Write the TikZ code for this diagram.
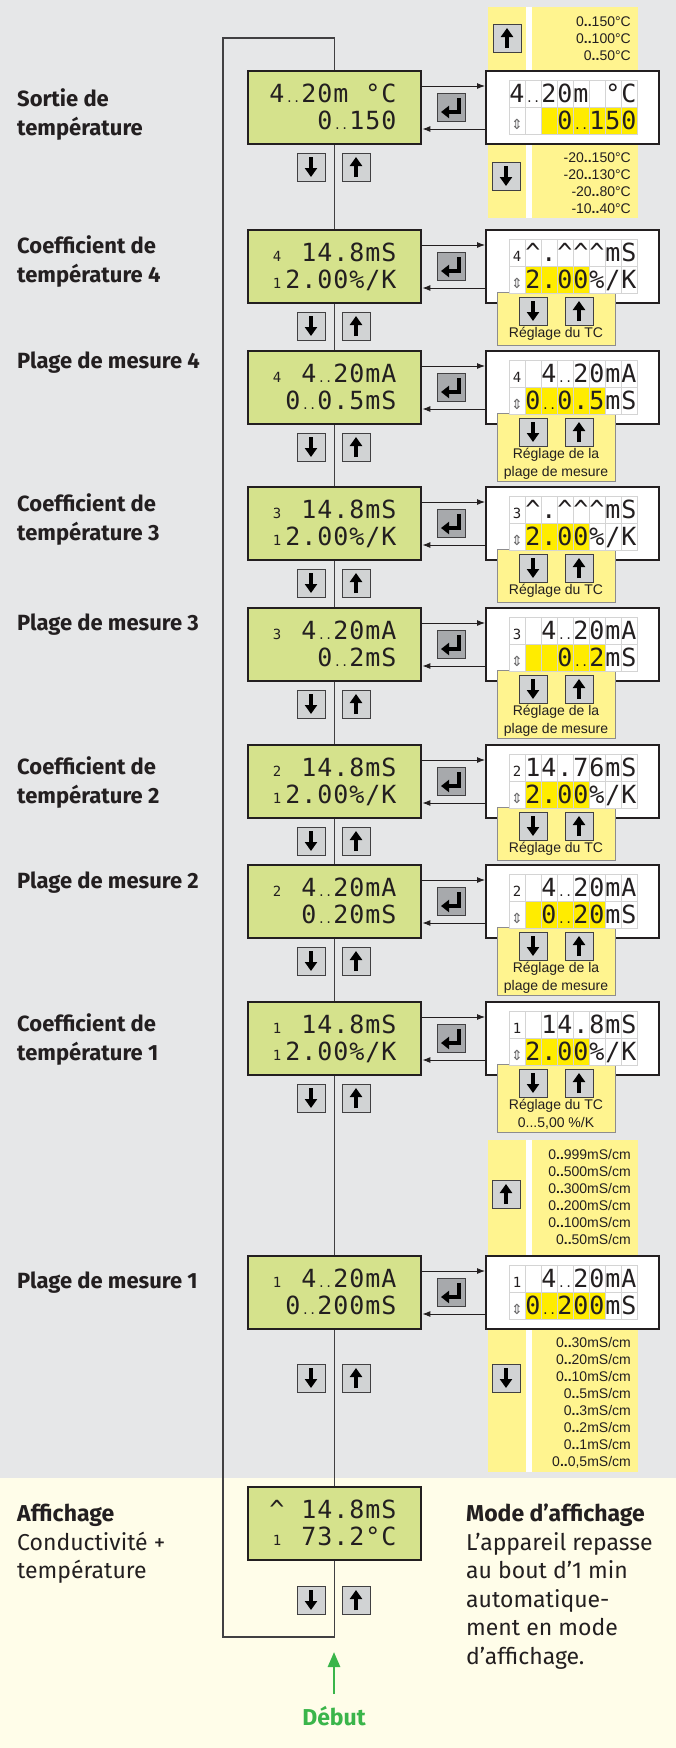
\documentclass[tikz,border=0pt]{standalone}
\usepackage{fontspec}
\setmainfont{Fira Sans}
\newfontfamily\lcdfont{DejaVu Sans Mono}
\newfontfamily\panelfont{Liberation Sans}
\newfontfamily\symfont{DejaVu Sans}
\usetikzlibrary{arrows.meta, calc}
\definecolor{bggrey}{HTML}{E6E7E8}
\definecolor{bgcream}{HTML}{FFFDE9}
\definecolor{lcdgreen}{HTML}{D5E28C}
\definecolor{panelyel}{HTML}{FFF48F}
\definecolor{hl}{HTML}{FFEC00}
\colorlet{wt}{white}
\definecolor{keygrey}{HTML}{D1D3D4}
\definecolor{entgrey}{HTML}{A7A9AC}
\definecolor{ink}{HTML}{231F20}
\definecolor{lineink}{HTML}{414042}
\definecolor{cellline}{HTML}{D4D4D4}
\definecolor{startgreen}{HTML}{3AB54A}
\tikzset{
  dispbox/.style={draw=ink, fill=lcdgreen, line width=2.4pt, minimum width=173pt, minimum height=73pt, anchor=north west, inner sep=0pt},
  setbox/.style={dispbox, fill=white},
  lcd/.style={font=\lcdfont\fontsize{25}{25}\selectfont, text=ink, minimum width=16pt, minimum height=27pt, text height=20pt, text depth=2pt, inner sep=0pt, outer sep=0pt, anchor=north west},
  cell/.style={lcd, draw=cellline, line width=0.8pt, fill=#1},
  keybtn/.style={draw=lineink, fill=keygrey, line width=1pt, minimum size=28pt, inner sep=0pt},
  entbtn/.style={keybtn, fill=entgrey},
  glyph/.style={draw=black, line width=3.8pt, line join=miter, -{Triangle[width=12pt, length=9pt]}},
  conn/.style={draw=ink, line width=0.9pt, -{Latex[length=8pt, width=6pt]}},
  flow/.style={draw=lineink, line width=1.1pt},
  panel/.style={draw=lineink!60, fill=panelyel, line width=0.8pt, minimum width=118pt, inner sep=0pt, anchor=north},
  paneltxt/.style={font=\panelfont\fontsize{14}{18}\selectfont, text=ink, align=center, inner sep=0pt, anchor=north},
  rangetxt/.style={font=\panelfont\fontsize{14}{17}\selectfont, text=ink, align=right, inner sep=0pt, anchor=north east},
  menutxt/.style={font=\bfseries\fontsize{22}{29}\selectfont, text=ink, align=left, inner sep=0pt, anchor=north west},
  starttxt/.style={font=\bfseries\fontsize{23}{23}\selectfont, text=startgreen, inner sep=0pt},
  startarrow/.style={draw=startgreen, line width=2.6pt, -{Triangle[width=12pt, length=15pt]}},
}
% lcd glyphs
\newcommand\idx[1]{{\fontsize{14}{14}\selectfont #1}}
\newcommand\twodot{{\fontsize{12}{12}\selectfont..}}
\newcommand\updn{{\symfont\fontsize{14}{14}\selectfont\color{lineink!80}⇕}}
\newcommand\caret{\textasciicircum}
\newcommand\rg{\textbf{..}}
% rows of characters: name, left x, top y, list
\newcommand\lcdrow[4]{\foreach \ch [count=\i] in {#4} \node[lcd] (#1-\i) at ({#2+16*(\i-1)},#3) {\ch};}
\newcommand\cellrow[4]{\foreach \ch/\cl [count=\i] in {#4} \node[cell=\cl] (#1-\i) at ({#2+16*(\i-1)},#3) {\ch};}
% keys
\newcommand\keydown[3]{\node[keybtn] (#1) at (#2,#3) {}; \draw[glyph] (#1.center) ++(0,-10) -- ++(0,20);}
\newcommand\keyup[3]{\node[keybtn] (#1) at (#2,#3) {}; \draw[glyph] (#1.center) ++(0,10) -- ++(0,-20);}
\newcommand\keypair[2]{\keydown{#1d}{311}{#2}\keyup{#1u}{356}{#2}}
% display + setting box, arrows and enter key
\newcommand\stage[2]{%
  \node[dispbox] (d#1) at (247,#2) {};
  \node[setbox] (s#1) at (485,#2) {};
  \draw[conn] ([yshift=-16pt]d#1.north east) -- ([yshift=-16pt]s#1.north west);
  \draw[conn] ([yshift=-59pt]s#1.north west) -- ([yshift=-59pt]d#1.north east);
  \node[entbtn] (e#1) at (451,{#2+37}) {};
  \draw[glyph, -{Triangle[width=12pt, length=8pt]}] (e#1.center) ++(8,-9) -- ++(0,14) -- ++(-18,0);
}
% yellow adjust panel under a setting box: name, box bottom, height, text
\newcommand\adjpanel[4]{%
  \node[panel, minimum height=#3] (p#1) at (556,{#2-10}) {};
  \keydown{p#1d}{533}{#2+9}
  \keyup{p#1u}{579}{#2+9}
  \node[paneltxt] (p#1t) at (556,{#2+25}) {#4};
}

\begin{document}
\begin{tikzpicture}[x=1pt, y=-1pt]
  \useasboundingbox (0,0) rectangle (676,1748);
  % backgrounds
  \fill[bggrey] (0,0) rectangle (676,1478);
  \fill[bgcream] (0,1478) rectangle (676,1748);
  % range lists
  \fill[panelyel] (488,7) rectangle (638,218);
  \fill[white] (526,7) rectangle (532,218);
  \fill[panelyel] (488,1140) rectangle (638,1472);
  \fill[white] (526,1140) rectangle (532,1472);

  % sortie de temperature
  \stage{1}{70}
  \lcdrow{d1a}{269}{80}{4,\twodot,2,0,m,{},°,C}
  \lcdrow{d1b}{269}{107}{{},{},{},0,\twodot,1,5,0}
  \cellrow{s1a}{509}{80}{4/wt,\twodot/wt,2/wt,0/wt,m/wt,{}/wt,°/wt,C/wt}
  \cellrow{s1b}{509}{107}{\updn/wt,{}/wt,{}/hl,0/hl,\twodot/hl,1/hl,5/hl,0/hl}
  \keyup{r1u}{507}{38}
  \keydown{r1d}{506}{176}
  \node[rangetxt] (r1a) at (631,17) {0\rg150°C\\0\rg100°C\\0\rg50°C};
  \node[rangetxt] (r1b) at (631,153) {-20\rg150°C\\-20\rg130°C\\-20\rg80°C\\-10\rg40°C};
  \keypair{k1}{167}

  % coefficient 4
  \stage{2}{229}
  \adjpanel{2}{302}{53}{Réglage du TC}
  \lcdrow{d2a}{269}{239}{\idx{4},{},1,4,{.},8,m,S}
  \lcdrow{d2b}{269}{266}{\idx{1},2,{.},0,0,\%,\slash,K}
  \cellrow{s2a}{509}{239}{\idx{4}/wt,\caret/wt,{.}/wt,\caret/wt,\caret/wt,\caret/wt,m/wt,S/wt}
  \cellrow{s2b}{509}{266}{\updn/wt,2/hl,{.}/hl,0/hl,0/hl,\%/wt,\slash/wt,K/wt}
  \keypair{k2}{326}

  % plage 4
  \stage{3}{350}
  \adjpanel{3}{423}{68}{Réglage de la\\plage de mesure}
  \lcdrow{d3a}{269}{360}{\idx{4},{},4,\twodot,2,0,m,A}
  \lcdrow{d3b}{269}{387}{{},0,\twodot,0,{.},5,m,S}
  \cellrow{s3a}{509}{360}{\idx{4}/wt,{}/wt,4/wt,\twodot/wt,2/wt,0/wt,m/wt,A/wt}
  \cellrow{s3b}{509}{387}{\updn/wt,0/hl,\twodot/hl,0/hl,{.}/hl,5/hl,m/wt,S/wt}
  \keypair{k3}{447}

  % coefficient 3
  \stage{4}{486}
  \adjpanel{4}{559}{53}{Réglage du TC}
  \lcdrow{d4a}{269}{496}{\idx{3},{},1,4,{.},8,m,S}
  \lcdrow{d4b}{269}{523}{\idx{1},2,{.},0,0,\%,\slash,K}
  \cellrow{s4a}{509}{496}{\idx{3}/wt,\caret/wt,{.}/wt,\caret/wt,\caret/wt,\caret/wt,m/wt,S/wt}
  \cellrow{s4b}{509}{523}{\updn/wt,2/hl,{.}/hl,0/hl,0/hl,\%/wt,\slash/wt,K/wt}
  \keypair{k4}{583}

  % plage 3
  \stage{5}{607}
  \adjpanel{5}{680}{68}{Réglage de la\\plage de mesure}
  \lcdrow{d5a}{269}{617}{\idx{3},{},4,\twodot,2,0,m,A}
  \lcdrow{d5b}{269}{644}{{},{},{},0,\twodot,2,m,S}
  \cellrow{s5a}{509}{617}{\idx{3}/wt,{}/wt,4/wt,\twodot/wt,2/wt,0/wt,m/wt,A/wt}
  \cellrow{s5b}{509}{644}{\updn/wt,{}/hl,{}/hl,0/hl,\twodot/hl,2/hl,m/wt,S/wt}
  \keypair{k5}{704}

  % coefficient 2
  \stage{6}{744}
  \adjpanel{6}{817}{53}{Réglage du TC}
  \lcdrow{d6a}{269}{754}{\idx{2},{},1,4,{.},8,m,S}
  \lcdrow{d6b}{269}{781}{\idx{1},2,{.},0,0,\%,\slash,K}
  \cellrow{s6a}{509}{754}{\idx{2}/wt,1/wt,4/wt,{.}/wt,7/wt,6/wt,m/wt,S/wt}
  \cellrow{s6b}{509}{781}{\updn/wt,2/hl,{.}/hl,0/hl,0/hl,\%/wt,\slash/wt,K/wt}
  \keypair{k6}{841}

  % plage 2
  \stage{7}{864}
  \adjpanel{7}{937}{68}{Réglage de la\\plage de mesure}
  \lcdrow{d7a}{269}{874}{\idx{2},{},4,\twodot,2,0,m,A}
  \lcdrow{d7b}{269}{901}{{},{},0,\twodot,2,0,m,S}
  \cellrow{s7a}{509}{874}{\idx{2}/wt,{}/wt,4/wt,\twodot/wt,2/wt,0/wt,m/wt,A/wt}
  \cellrow{s7b}{509}{901}{\updn/wt,{}/hl,0/hl,\twodot/hl,2/hl,0/hl,m/wt,S/wt}
  \keypair{k7}{961}

  % coefficient 1
  \stage{8}{1001}
  \adjpanel{8}{1074}{68}{Réglage du TC\\0...5,00 \%/K}
  \lcdrow{d8a}{269}{1011}{\idx{1},{},1,4,{.},8,m,S}
  \lcdrow{d8b}{269}{1038}{\idx{1},2,{.},0,0,\%,\slash,K}
  \cellrow{s8a}{509}{1011}{\idx{1}/wt,{}/wt,1/wt,4/wt,{.}/wt,8/wt,m/wt,S/wt}
  \cellrow{s8b}{509}{1038}{\updn/wt,2/hl,{.}/hl,0/hl,0/hl,\%/wt,\slash/wt,K/wt}
  \keypair{k8}{1098}

  % plage 1
  \stage{9}{1255}
  \lcdrow{d9a}{269}{1265}{\idx{1},{},4,\twodot,2,0,m,A}
  \lcdrow{d9b}{269}{1292}{{},0,\twodot,2,0,0,m,S}
  \cellrow{s9a}{509}{1265}{\idx{1}/wt,{}/wt,4/wt,\twodot/wt,2/wt,0/wt,m/wt,A/wt}
  \cellrow{s9b}{509}{1292}{\updn/wt,0/hl,\twodot/hl,2/hl,0/hl,0/hl,m/wt,S/wt}
  \keyup{r9u}{506}{1194}
  \keydown{r9d}{506}{1378}
  \node[rangetxt] (r9a) at (631,1149) {0\rg999mS/cm\\0\rg500mS/cm\\0\rg300mS/cm\\0\rg200mS/cm\\0\rg100mS/cm\\0\rg50mS/cm};
  \node[rangetxt] (r9b) at (631,1337) {0\rg30mS/cm\\0\rg20mS/cm\\0\rg10mS/cm\\0\rg5mS/cm\\0\rg3mS/cm\\0\rg2mS/cm\\0\rg1mS/cm\\0\rg0,5mS/cm};
  \keypair{k9}{1378}

  % affichage
  \node[dispbox] (d10) at (247,1486) {};
  \lcdrow{d10a}{269}{1496}{\caret,{},1,4,{.},8,m,S}
  \lcdrow{d10b}{269}{1523}{\idx{1},{},7,3,{.},2,°,C}
  \keypair{k10}{1600}

  % main loop
  \foreach \i [evaluate=\i as \j using int(\i+1)] in {1,...,9}
    \draw[flow] (d\i.south) -- (d\j.north);
  \coordinate (loopbl) at (223,1637);
  \coordinate (looptl) at (223,38);
  \draw[flow] (d10.south) |- (loopbl) -- (looptl) -| (d1.north);

  % labels
  \node[menutxt] (t1) at (17,88) {Sortie de\\température};
  \node[menutxt] (t2) at (17,235) {Coefficient de\\température 4};
  \node[menutxt] (t3) at (17,352) {Plage de mesure 4};
  \node[menutxt] (t4) at (17,493) {Coefficient de\\température 3};
  \node[menutxt] (t5) at (17,614) {Plage de mesure 3};
  \node[menutxt] (t6) at (17,756) {Coefficient de\\température 2};
  \node[menutxt] (t7) at (17,872) {Plage de mesure 2};
  \node[menutxt] (t8) at (17,1013) {Coefficient de\\température 1};
  \node[menutxt] (t9) at (17,1272) {Plage de mesure 1};
  \node[menutxt, font=\fontsize{23}{28.5}\selectfont] (t10) at (17,1504) {\textbf{Affichage}\\Conductivité +\\température};
  \node[menutxt, font=\fontsize{23}{28.5}\selectfont] (mode) at (466,1504) {\textbf{Mode d’affichage}\\L’appareil repasse\\au bout d’1 min\\automatique-\\ment en mode\\d’affichage.};

  % start
  \node[starttxt] (debut) at (334,1716) {Début};
  \coordinate (entry) at (334,1652);
  \draw[startarrow] ([yshift=12pt]debut.north) -- (entry);
\end{tikzpicture}
\end{document}
